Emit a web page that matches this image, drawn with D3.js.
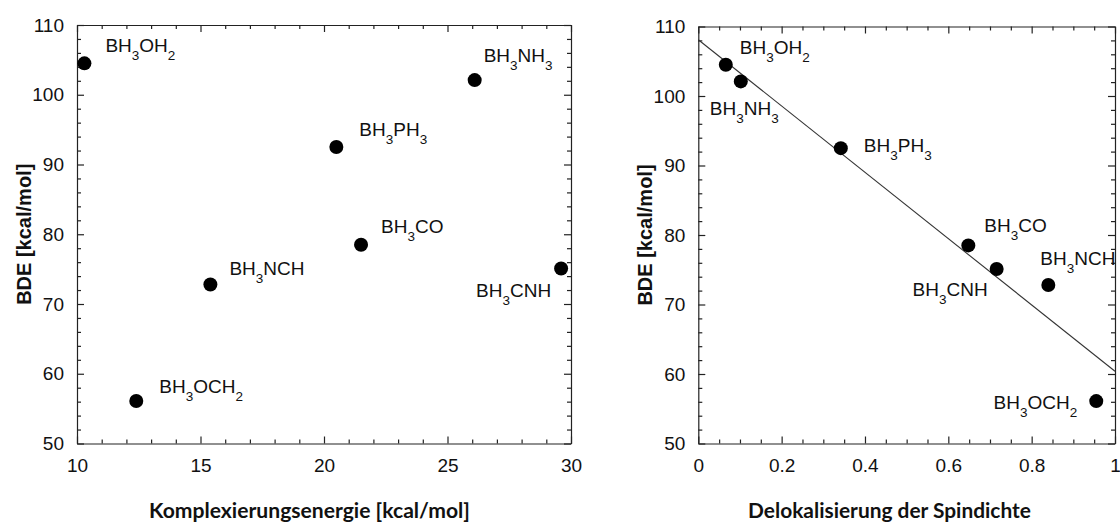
<!DOCTYPE html>
<html>
<head>
<meta charset="utf-8">
<script src="https://cdn.jsdelivr.net/npm/d3@7/dist/d3.min.js"></script>
<style>
  body { margin: 0; background: #fff; }
  svg text { font-family: "Liberation Sans", Arial, Helvetica, sans-serif; fill: #111; }
</style>
</head>
<body>
<svg width="1120" height="524"></svg>
<script>
// data
const compounds = ["BH3OH2", "BH3NH3", "BH3PH3", "BH3CO", "BH3NCH", "BH3OCH2", "BH3CNH"];
const bde = [104.5, 102.1, 92.5, 78.5, 72.8, 56.1, 75.1];
const complexEnergy = [10.3, 26.1, 20.5, 21.5, 15.4, 12.4, 29.6];
const spinDeloc = [0.066, 0.102, 0.342, 0.648, 0.840, 0.955, 0.716];

// regression line
const fitX = [0, 1];
const fitY = [108.1, 60.4];

const leftXTicks = [10, 15, 20, 25, 30];
const rightXTicks = [0, 0.2, 0.4, 0.6, 0.8, 1];
const rightXLabels = ["0", "0.2", "0.4", "0.6", "0.8", "1"];
const yTicks = [50, 60, 70, 80, 90, 100, 110];

const yTitle = "BDE [kcal/mol]";
const leftXTitle = "Komplexierungsenergie [kcal/mol]";
const rightXTitle = "Delokalisierung der Spindichte";

// label placement relative to the dot (dx, dy to baseline, anchor)
const leftLabelPos = {
  BH3OH2: [21, -11, "start"], BH3NH3: [9, -18, "start"], BH3PH3: [23, -11, "start"],
  BH3CO: [20, -12, "start"], BH3NCH: [19, -9, "start"], BH3OCH2: [23, -8, "start"],
  BH3CNH: [-10, 29, "end"]
};
const rightLabelPos = {
  BH3OH2: [14, -11, "start"], BH3NH3: [-31, 34, "start"], BH3PH3: [23, 4, "start"],
  BH3CO: [16, -13, "start"], BH3NCH: [-8, -20, "start"], BH3OCH2: [-19, 8, "end"],
  BH3CNH: [-9, 27, "end"]
};

const svg = d3.select("svg");
const ink = "#222";

const points = compounds.map((name, i) => ({
  name, bde: bde[i], complex: complexEnergy[i], deloc: spinDeloc[i]
}));

// write a formula with the digits as subscripts
function formula(text, name) {
  const parts = name.match(/[A-Za-z]+|\d+/g);
  let low = false;
  parts.forEach(p => {
    const isSub = /\d/.test(p);
    const t = text.append("tspan").text(p);
    if (isSub) { t.attr("font-size", 13.5).attr("dy", 8); low = true; }
    else if (low) { t.attr("dy", -8); low = false; }
  });
}

function drawFrame(g, x, y, xTicks, xFmt, xMinor, yMinor) {
  const [y0, y1] = y.range();
  const [x0, x1] = x.range();
  const style = sel => {
    sel.attr("color", ink).attr("font-size", 19)
      .attr("font-family", '"Liberation Sans", Arial, sans-serif');
    sel.selectAll("path, line").attr("stroke-width", 1.2);
  };
  const noDomain = sel => sel.select(".domain").remove();

  g.append("g").attr("transform", `translate(0,${y0})`)
    .call(d3.axisBottom(x).tickValues(xTicks).tickFormat(xFmt)
      .tickSize(-7).tickSizeOuter(0).tickPadding(15)).call(style);
  g.append("g").attr("transform", `translate(0,${y0})`)
    .call(d3.axisBottom(x).tickValues(xMinor).tickFormat("").tickSize(-4))
    .call(style).call(noDomain);
  g.append("g").attr("transform", `translate(0,${y1})`)
    .call(d3.axisTop(x).tickValues(xTicks).tickFormat("").tickSize(-7).tickSizeOuter(0)).call(style);
  g.append("g").attr("transform", `translate(0,${y1})`)
    .call(d3.axisTop(x).tickValues(xMinor).tickFormat("").tickSize(-4))
    .call(style).call(noDomain);

  g.append("g").attr("transform", `translate(${x0},0)`)
    .call(d3.axisLeft(y).tickValues(yTicks).tickSize(-7).tickSizeOuter(0).tickPadding(13)).call(style);
  g.append("g").attr("transform", `translate(${x0},0)`)
    .call(d3.axisLeft(y).tickValues(yMinor).tickFormat("").tickSize(-4))
    .call(style).call(noDomain);
  g.append("g").attr("transform", `translate(${x1},0)`)
    .call(d3.axisRight(y).tickValues(yTicks).tickFormat("").tickSize(-7).tickSizeOuter(0)).call(style);
  g.append("g").attr("transform", `translate(${x1},0)`)
    .call(d3.axisRight(y).tickValues(yMinor).tickFormat("").tickSize(-4))
    .call(style).call(noDomain);
}

function drawLabels(g, x, y, xKey, pos) {
  points.forEach(d => {
    const [dx, dy, anchor] = pos[d.name];
    const t = g.append("text")
      .attr("x", x(d[xKey]) + dx)
      .attr("y", y(d.bde) + dy)
      .attr("font-size", 19)
      .attr("text-anchor", anchor);
    formula(t, d.name);
  });
}

function drawDots(g, x, y, xKey) {
  g.selectAll("circle.dot").data(points).join("circle")
    .attr("class", "dot")
    .attr("cx", d => x(d[xKey]))
    .attr("cy", d => y(d.bde))
    .attr("r", 7)
    .attr("fill", "#000");
}

function yAxisTitle(g, xPos, y) {
  const [y0, y1] = y.range();
  g.append("text")
    .attr("transform", `translate(${xPos},${(y0 + y1) / 2}) rotate(-90)`)
    .attr("text-anchor", "middle")
    .attr("font-size", 20)
    .attr("font-weight", "bold")
    .text(yTitle);
}

function xAxisTitle(g, label, left, right, baseline) {
  const t = g.append("text")
    .attr("x", (left + right) / 2)
    .attr("y", baseline)
    .attr("text-anchor", "middle")
    .attr("font-size", 20)
    .attr("font-weight", "bold")
    .style("font-family", "Lato, 'Open Sans', sans-serif")
    .text(label);
  const len = t.node().getComputedTextLength();
  t.attr("font-size", 20 * (right - left) / len);
}

const yMinor = d3.range(50, 111, 2).filter(v => v % 10 !== 0);

// left panel
const xL = d3.scaleLinear().domain([10, 30]).range([77, 571]);
const yL = d3.scaleLinear().domain([50, 110]).range([443.5, 25]);
const gL = svg.append("g");
drawFrame(gL, xL, yL, leftXTicks, d3.format("d"),
  d3.range(10, 31, 1).filter(v => v % 5 !== 0), yMinor);
drawDots(gL, xL, yL, "complex");
drawLabels(gL, xL, yL, "complex", leftLabelPos);
yAxisTitle(gL, 31, yL);
xAxisTitle(gL, leftXTitle, 149, 470, 518);

// right panel
const xR = d3.scaleLinear().domain([0, 1]).range([698.3, 1115]);
const yR = d3.scaleLinear().domain([50, 110]).range([443.5, 26.5]);
const gR = svg.append("g");
drawFrame(gR, xR, yR, rightXTicks, (d, i) => rightXLabels[i],
  d3.range(0, 101, 5).filter(v => v % 20 !== 0).map(v => v / 100), yMinor);

gR.append("path")
  .datum(fitX.map((v, i) => [v, fitY[i]]))
  .attr("d", d3.line().x(d => xR(d[0])).y(d => yR(d[1])))
  .attr("fill", "none")
  .attr("stroke", "#333")
  .attr("stroke-width", 1.1);

drawDots(gR, xR, yR, "deloc");
drawLabels(gR, xR, yR, "deloc", rightLabelPos);
yAxisTitle(gR, 652, yR);
xAxisTitle(gR, rightXTitle, 748, 1031, 518);
</script>
</body>
</html>
